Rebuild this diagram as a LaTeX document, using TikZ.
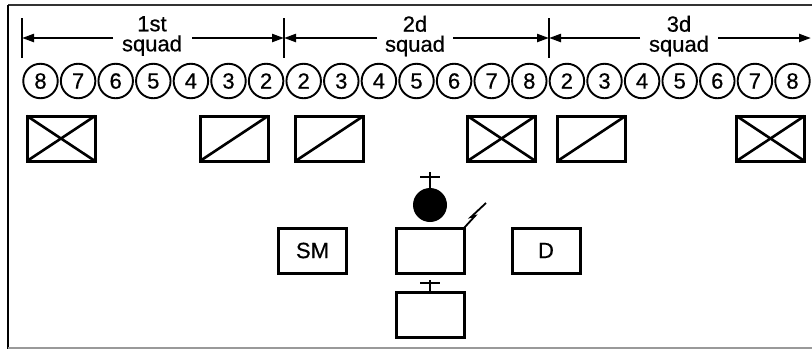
\documentclass[tikz,border=0pt]{standalone}
\usepackage{fontspec}
\setmainfont{Liberation Sans}
\newfontfamily\lblfont{Liberation Sans}[FakeBold=0.6]
\usetikzlibrary{arrows.meta}
\begin{document}
\begin{tikzpicture}[x=1pt,y=-1pt,
  soldier/.style={circle,draw,line width=1.9pt,minimum size=34.5pt,inner sep=0pt,font=\lblfont\fontsize{22}{22}\selectfont},
  veh/.style={draw,line width=3pt,minimum width=68pt,minimum height=45pt,inner sep=0pt,outer sep=0pt},
  diag/.style={line width=2.6pt},
  tick/.style={line width=2.6pt},
  dimarrow/.style={line width=2.2pt,-{Triangle[length=12pt,width=8pt]}},
  squadlabel/.style={align=center,font=\lblfont\fontsize{22}{20}\selectfont,inner sep=0pt},
  boxlabel/.style={font=\lblfont\fontsize{22}{22}\selectfont}]
\useasboundingbox (0,0) rectangle (812,349);
% frame
\draw[line width=2pt,black!80] (8,5) -- (812,5);
\draw[line width=2.6pt] (8,5) -- (8,349);
\draw[line width=1.4pt,black!40] (8,348) -- (812,348);
% squad dimension lines
\coordinate (t1) at (22,38);
\coordinate (t2) at (284,38);
\coordinate (t3) at (549,38);
\coordinate (tend) at (811,38);
\draw[tick] (22,18) -- (22,58);
\draw[tick] (284,18) -- (284,58);
\draw[tick] (549,18) -- (549,58);
\node[squadlabel] (s1) at (152,36) {1st\\squad};
\node[squadlabel] (s2) at (415,36) {2d\\squad};
\node[squadlabel] (s3) at (679,36) {3d\\squad};
\coordinate (s1l) at (113,38); \coordinate (s1r) at (192,38);
\coordinate (s2l) at (377,38); \coordinate (s2r) at (453,38);
\coordinate (s3l) at (640,38); \coordinate (s3r) at (718,38);
\draw[dimarrow] (s1l) -- (t1);
\draw[dimarrow] (s1r) -- (t2);
\draw[dimarrow] (s2l) -- (t2);
\draw[dimarrow] (s2r) -- (t3);
\draw[dimarrow] (s3l) -- (t3);
\draw[dimarrow] (s3r) -- (tend);
% soldiers
\foreach \n [count=\i from 0] in {8,7,6,5,4,3,2,2,3,4,5,6,7,8,2,3,4,5,6,7,8}
  \node[soldier] (p\i) at ({40.5+37.6*\i},81) {\n};
% vehicles
\node[veh] (v1) at (61,138.5) {};
\node[veh] (v2) at (234,138.5) {};
\node[veh] (v3) at (329.5,138.5) {};
\node[veh] (v4) at (501.5,138.5) {};
\node[veh] (v5) at (591.5,138.5) {};
\node[veh] (v6) at (770.5,138.5) {};
\draw[diag] (v1.south west) -- (v1.north east) (v1.north west) -- (v1.south east);
\draw[diag] (v2.south west) -- (v2.north east);
\draw[diag] (v3.south west) -- (v3.north east);
\draw[diag] (v4.south west) -- (v4.north east) (v4.north west) -- (v4.south east);
\draw[diag] (v5.south west) -- (v5.north east);
\draw[diag] (v6.south west) -- (v6.north east) (v6.north west) -- (v6.south east);
% headquarters
\node[veh,boxlabel] (sm) at (312.5,250.5) {SM};
\node[veh] (cmd) at (430,250.5) {};
\node[veh,boxlabel] (d) at (546,250.5) {D};
\node[veh] (med) at (430,315) {};
\node[circle,fill=black,minimum size=34pt,inner sep=0pt] (ldr) at (430,205) {};
\draw[line width=2.2pt] (ldr.north) -- ++(0,-16);
\draw[line width=2.2pt] (420,177) -- (440,177);
\draw[line width=2.2pt] (med.north) -- ++(0,-13);
\draw[line width=2.2pt] (420,283) -- (440,283);
% radio bolt
\draw[line width=1.8pt,line join=miter,miter limit=20] (cmd.north east) -- ++(11,-12) -- ++(-4,1) -- ++(15,-14);
\end{tikzpicture}
\end{document}
